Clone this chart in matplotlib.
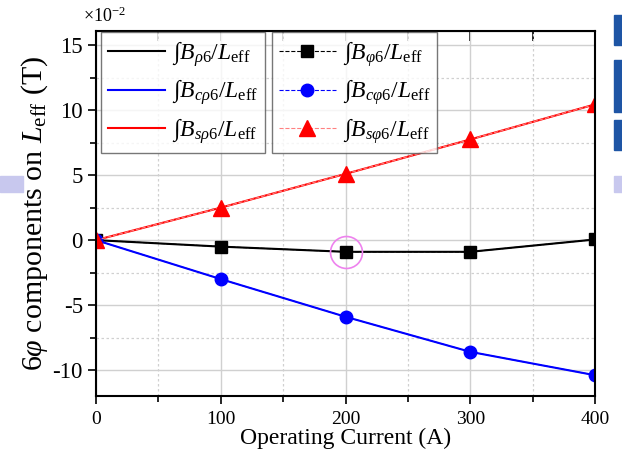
import numpy as np
import matplotlib.pyplot as plt
from matplotlib.patches import Rectangle
from matplotlib.ticker import MultipleLocator

plt.rcParams['font.family'] = ['Liberation Serif', 'DejaVu Serif']
plt.rcParams['mathtext.fontset'] = 'custom'
plt.rcParams['mathtext.rm'] = 'Liberation Serif'
plt.rcParams['mathtext.it'] = 'Liberation Serif:italic'
plt.rcParams['mathtext.bf'] = 'Liberation Serif:bold'

# operating current (A)
current = [0, 100, 200, 300, 400]
# field components, in units of 1e-2 T
b_rho6 = [0.0, -0.5, -0.9, -0.9, 0.05]
b_crho6 = [0.0, -3.0, -5.9, -8.6, -10.4]
b_srho6 = [0.0, 2.5, 5.1, 7.75, 10.45]
b_phi6 = [0.0, -0.5, -0.9, -0.9, 0.05]
b_cphi6 = [0.0, -3.0, -5.9, -8.6, -10.4]
b_sphi6 = [0.0, 2.5, 5.1, 7.75, 10.45]

fig = plt.figure(figsize=(6.22, 4.55), dpi=100)
ax = fig.add_axes([96/622, 1-396/455, (595-96)/622, (396-31)/455])

l1, = ax.plot(current, b_rho6, '-', color='black', lw=1.5)
l2, = ax.plot(current, b_crho6, '-', color='blue', lw=1.5)
l3, = ax.plot(current, b_srho6, '-', color='red', lw=1.5)
m1, = ax.plot(current, b_phi6, '--', color='black', lw=0.8, marker='s', ms=9)
m2, = ax.plot(current, b_cphi6, '--', color='blue', lw=0.8, marker='o', ms=9)
m3, = ax.plot(current, b_sphi6, '--', color='#ff8080', lw=0.8, marker='^', ms=11,
              mfc='red', mec='red')

# highlight around the 200 A point
ax.plot(current[2], b_phi6[2], 'o', ms=23, mfc='none', mec='violet', mew=1.2)

ax.set_xlim(0, 400)
ax.set_ylim(-12, 16.1)
ax.xaxis.set_major_locator(MultipleLocator(100))
ax.xaxis.set_minor_locator(MultipleLocator(50))
ax.yaxis.set_major_locator(MultipleLocator(5))
ax.yaxis.set_minor_locator(MultipleLocator(2.5))
ax.grid(which='major', color='#d0d0d0', lw=1.0)
ax.grid(which='minor', color='#d0d0d0', lw=0.9, ls=(0, (2, 2)))
ax.set_axisbelow(True)
ax.tick_params(which='both', direction='out', width=1.2)
ax.tick_params(which='major', length=6)
ax.tick_params(which='minor', length=4)
ax.tick_params(axis='x', labelsize=14, pad=5)
ax.tick_params(axis='y', labelsize=16.5)
ax.secondary_xaxis('top').tick_params(which='both', direction='in', labeltop=False,
                                      length=7, width=1.2)
for s in ax.spines.values():
    s.set_linewidth(1.5)
ax.set_yticks([-10, -5, 0, 5, 10, 15])
ax.set_yticklabels(['-10', '-5', '0', '5', '10', '15'])

ax.set_xlabel('Operating Current (A)', fontsize=17, labelpad=0)
ax.set_ylabel(r'6$\varphi$ components on $L_{\rm eff}$ (T)', fontsize=21.5, labelpad=2)
fig.text(83/622, 1-16/455, r'$\times 10^{-2}$', fontsize=13, va='center')

kw = dict(fontsize=17, frameon=True, fancybox=False, edgecolor='#555555',
          handlelength=2.4, labelspacing=0.38, borderpad=0.3, handletextpad=0.3,
          borderaxespad=0)
leg1 = ax.legend([l1, l2, l3],
                 [r'$\int B_{\rho 6}/L_{\rm eff}$', r'$\int B_{c\rho 6}/L_{\rm eff}$',
                  r'$\int B_{s\rho 6}/L_{\rm eff}$'],
                 loc='upper left', bbox_to_anchor=(5/499, 1 - 1/365), **kw)
leg1.get_frame().set_linewidth(1.0)
ax.add_artist(leg1)
leg2 = ax.legend([m1, m2, m3],
                 [r'$\int B_{\varphi 6}/L_{\rm eff}$', r'$\int B_{c\varphi 6}/L_{\rm eff}$',
                  r'$\int B_{s\varphi 6}/L_{\rm eff}$'],
                 loc='upper left', bbox_to_anchor=(176/499, 1 - 1/365), **kw)
leg2.get_frame().set_linewidth(1.0)

# slide decorations around the plot
fig.patches.append(Rectangle((0, 1-192/455), 23/622, 16/455, transform=fig.transFigure,
                             color='#c8c8ee', zorder=0))
fig.patches.append(Rectangle((614/622, 1-192/455), 8/622, 16/455, transform=fig.transFigure,
                             color='#c8c8ee', zorder=0))
for y0, y1 in [(15, 45), (60, 112), (120, 150)]:
    fig.patches.append(Rectangle((614/622, 1-y1/455), 8/622, (y1-y0)/455,
                                 transform=fig.transFigure, color='#1e55a5', zorder=0))

fig.savefig('out.png', dpi=100)
